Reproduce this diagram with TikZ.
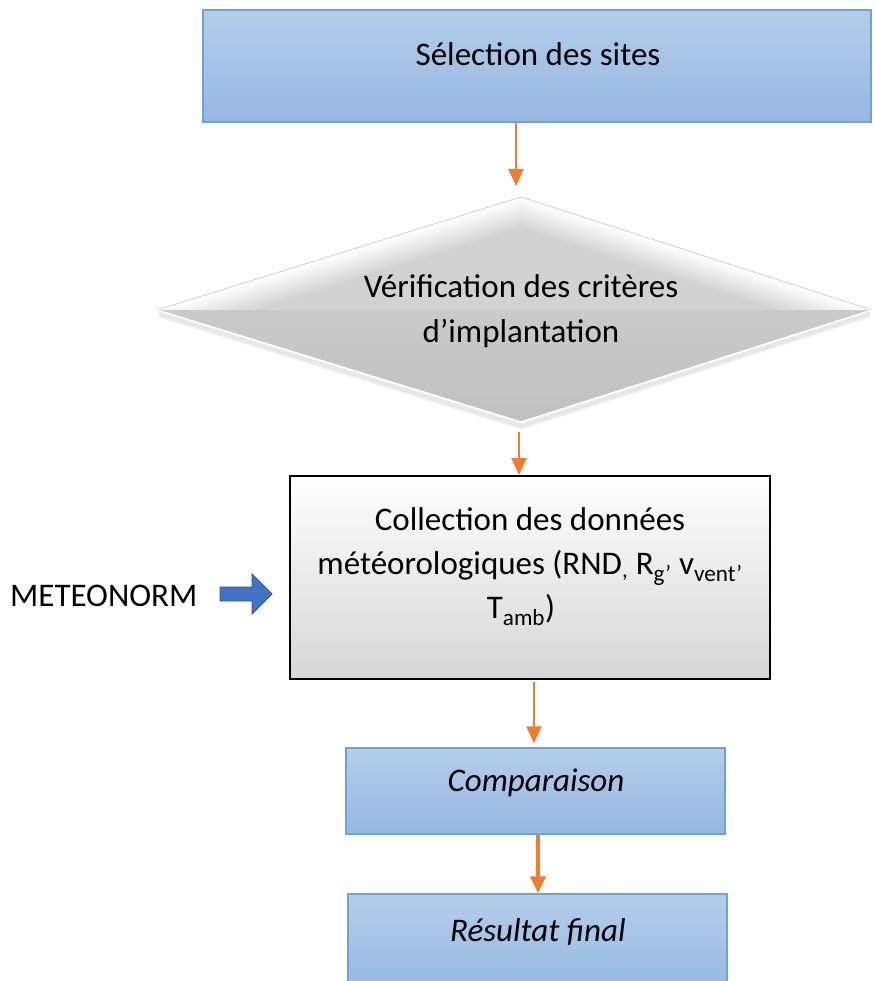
\documentclass[tikz,border=0pt]{standalone}
\usepackage{fontspec}
\setmainfont{Carlito}
\usetikzlibrary{arrows.meta,calc}
\definecolor{boxtop}{HTML}{B4CDEA}
\definecolor{boxbot}{HTML}{95B8E2}
\definecolor{boxline}{HTML}{6EA2DA}
\definecolor{flowc}{HTML}{ED7D31}
\definecolor{arrowfill}{HTML}{4472C4}
\definecolor{arrowline}{HTML}{2F528F}
\definecolor{bevelgray}{HTML}{D2D2D2}
\definecolor{lowtop}{HTML}{CACACA}
\definecolor{lowbot}{HTML}{C0C0C0}
\definecolor{edgegray}{HTML}{D0D0D0}
\definecolor{colbot}{HTML}{D6D6D6}
\begin{document}
\begin{tikzpicture}[x=1pt,y=-1pt,
  txt/.style={font=\fontsize{33}{44}\selectfont, inner sep=0pt, anchor=base},
  bluebox/.style={draw=boxline, line width=1.5pt, top color=boxtop, bottom color=boxbot, inner sep=0pt},
  greybox/.style={draw=black, line width=2pt, top color=white, bottom color=colbot, inner sep=0pt},
  flow/.style={draw=flowc, line width=2.6pt, -{Triangle[width=15pt,length=17pt]}},
]
\useasboundingbox (0,0) rectangle (874,981);
\clip (0,0) rectangle (874,981);

% first step
\node[bluebox, minimum width=668pt, minimum height=112pt] (sel) at (537,66) {};
\node[txt] (selt) at (538,66) {Sélection des sites};

% decision diamond with bevelled upper half
\coordinate (dL) at (157,310);
\coordinate (dT) at (521,197);
\coordinate (dR) at (872,310);
\coordinate (dB) at (521,422);
\coordinate (dC) at (521,310);
\foreach \k in {2,4,6} {
  \draw[black, opacity=0.06, line width=3pt, line join=round]
    ($(dL)+(2,\k)$) -- ($(dB)+(0,\k)$) -- ($(dR)+(-2,\k)$);
}
\begin{scope}
  \clip (dL) -- (dT) -- (dR) -- cycle;
  \foreach \i in {0,...,16} {
    \pgfmathsetmacro\s{1-0.017*\i}
    \pgfmathsetmacro\p{6.25*\i}
    \fill[bevelgray!\p!white] ($(dC)!\s!(dL)$) -- ($(dC)!\s!(dT)$) -- ($(dC)!\s!(dR)$) -- ($(dC)!\s!(dB)$) -- cycle;
  }
\end{scope}
\shade[top color=lowtop, bottom color=lowbot] (dL) -- (dB) -- (dR) -- cycle;
\draw[edgegray, line width=0.8pt, line join=round] (dL) -- (dT) -- (dR);
\draw[white, line width=1.4pt, line join=round] (dL) -- (dB) -- (dR);
\node[txt] (ver1) at (521,298) {Vérification des critères};
\node[txt] (ver2) at (521,342) {d’implantation};

% data collection
\node[greybox, minimum width=480pt, minimum height=203pt] (col) at (530,577.5) {};
\node[txt] (col1) at (530,530) {Collection des données};
\node[txt] (col2) at (530,574) {météorologiques (RND\textsubscript{,} R\textsubscript{g’} v\textsubscript{vent’}};
\node[txt] (col3) at (521,618) {T\textsubscript{amb})};

% data source
\node[txt, anchor=base west] (met) at (10,606) {METEONORM};
\draw[fill=arrowfill, draw=arrowline, line width=0.8pt, line join=miter]
  (220,587) -- (252,587) -- (252,574) -- (272,594) -- (252,614) -- (252,601) -- (220,601) -- cycle;

% last steps
\node[bluebox, minimum width=379pt, minimum height=86pt] (cmp) at (535.5,791) {};
\node[txt, font=\fontsize{33}{44}\selectfont\itshape] (cmpt) at (536,791) {Comparaison};
\node[bluebox, minimum width=379pt, minimum height=100pt] (res) at (537.5,944) {};
\node[txt, font=\fontsize{33}{44}\selectfont\itshape] (rest) at (538,941) {Résultat final};

% connectors
\coordinate (a1e) at (516,186);
\coordinate (a2s) at (519,432);
\coordinate (a3s) at (534,682);
\coordinate (a4) at (538,0);
\draw[flow] (sel.south -| a1e) -- (a1e);
\draw[flow] (a2s) -- (a2s |- col.north);
\draw[flow] (a3s) -- ($(a3s |- cmp.north)+(0,-4)$);
\draw[flow, line width=4pt] (cmp.south -| a4) -- (res.north -| a4);
\end{tikzpicture}
\end{document}
